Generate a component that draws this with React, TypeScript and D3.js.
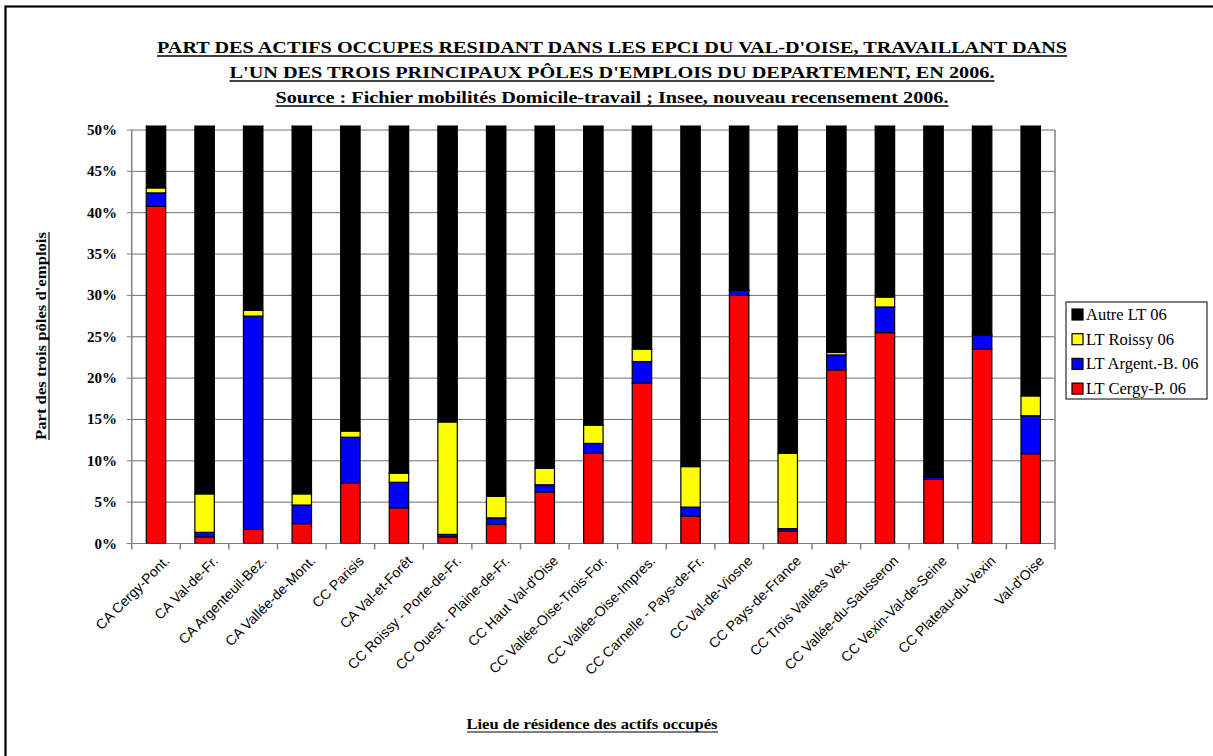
import * as d3 from "d3";

const categories = [
  "CA Cergy-Pont.",
  "CA Val-de-Fr.",
  "CA Argenteuil-Bez.",
  "CA Vallée-de-Mont.",
  "CC Parisis",
  "CA Val-et-Forêt",
  "CC Roissy - Porte-de-Fr.",
  "CC Ouest - Plaine-de-Fr.",
  "CC Haut Val-d'Oise",
  "CC Vallée-Oise-Trois-For.",
  "CC Vallée-Oise-Impres.",
  "CC Carnelle - Pays-de-Fr.",
  "CC Val-de-Viosne",
  "CC Pays-de-France",
  "CC Trois Vallées Vex.",
  "CC Vallée-du-Sausseron",
  "CC Vexin-Val-de-Seine",
  "CC Plateau-du-Vexin",
  "Val-d'Oise",
];

// shares in %
const cergy = [40.8, 0.8, 1.7, 2.4, 7.3, 4.3, 0.8, 2.3, 6.2, 10.9, 19.4, 3.3, 30.0, 1.5, 21.0, 25.5, 7.75, 23.5, 10.85];
const argent = [1.6, 0.55, 25.8, 2.25, 5.55, 3.1, 0.3, 0.8, 0.9, 1.2, 2.6, 1.1, 0.6, 0.3, 1.8, 3.1, 0.25, 1.7, 4.6];
const roissy = [0.6, 4.65, 0.7, 1.35, 0.75, 1.1, 13.6, 2.6, 2.0, 2.2, 1.5, 4.9, 0.05, 9.1, 0.3, 1.2, 0.05, 0.05, 2.4];
const autre = [57.0, 94.0, 71.8, 94.0, 86.4, 91.5, 85.3, 94.3, 90.9, 85.7, 76.5, 90.7, 69.35, 89.1, 76.9, 70.2, 91.95, 74.75, 82.15];

const yTicks = [0, 5, 10, 15, 20, 25, 30, 35, 40, 45, 50];

const series = [
  { key: "cergy", label: "LT Cergy-P. 06", color: "#ff0000", values: cergy },
  { key: "argent", label: "LT Argent.-B. 06", color: "#0000ff", values: argent },
  { key: "roissy", label: "LT Roissy 06", color: "#ffff00", values: roissy },
  { key: "autre", label: "Autre LT 06", color: "#000000", values: autre },
];

const titleLines = [
  "PART DES ACTIFS OCCUPES RESIDANT DANS LES EPCI DU VAL-D'OISE, TRAVAILLANT DANS",
  "L'UN DES TROIS PRINCIPAUX PÔLES D'EMPLOIS DU DEPARTEMENT, EN 2006.",
  "Source : Fichier mobilités Domicile-travail ; Insee, nouveau recensement 2006.",
];
const titleWidths = [910, 765, 673];

const serif = "'Liberation Serif', 'Times New Roman', serif";
const sans = "'Liberation Sans', Arial, sans-serif";

export default function App() {
  const width = 1213;
  const height = 756;
  const plot = { left: 131.7, right: 1055, top: 130, bottom: 543.5 };

  const rows = categories.map((name, i) => {
    const row: Record<string, number | string> = { name };
    series.forEach((s) => (row[s.key] = s.values[i]));
    return row;
  });
  const stacked = d3.stack<any>().keys(series.map((s) => s.key))(rows);

  const x = d3
    .scaleBand()
    .domain(categories)
    .range([plot.left, plot.right])
    .paddingInner(0.6)
    .paddingOuter(0.3);
  const y = d3.scaleLinear().domain([0, 50]).range([plot.bottom, plot.top]);
  const pct = d3.format(".0%");
  const step = x.step();
  const boundaries = d3.range(categories.length + 1).map((i) => plot.left + i * step);
  const legendOrder = [...series].reverse();
  const axisGray = "#808080";

  return (
    <svg width={width} height={height} style={{ position: "absolute", left: 0, top: 0, background: "#fff" }}>
      <defs>
        <clipPath id="plot-clip">
          <rect x={plot.left} y={plot.top - 4.5} width={plot.right - plot.left} height={plot.bottom - plot.top + 4.5} />
        </clipPath>
      </defs>
      <rect x={5.5} y={6.5} width={width + 20} height={height + 20} fill="#fff" stroke="#000" strokeWidth={2.2} />

      {titleLines.map((line, i) => {
        const cy = 53 + i * 25;
        const w = titleWidths[i];
        return (
          <g key={i}>
            <text
              x={612}
              y={cy}
              textAnchor="middle"
              fontFamily={serif}
              fontWeight="bold"
              fontSize={17}
              textLength={w}
              lengthAdjust="spacingAndGlyphs"
            >
              {line}
            </text>
            <line x1={612 - w / 2} x2={612 + w / 2} y1={cy + 3} y2={cy + 3} stroke="#000" strokeWidth={1.3} />
          </g>
        );
      })}

      {yTicks.map((t) => (
        <g key={t}>
          <line x1={plot.left} x2={plot.right} y1={y(t)} y2={y(t)} stroke={t === 0 ? axisGray : "#6e6e6e"} strokeWidth={1} />
          <line x1={plot.left - 5} x2={plot.left} y1={y(t)} y2={y(t)} stroke={axisGray} />
          <text x={117} y={y(t) + 5} textAnchor="end" fontFamily={serif} fontWeight="bold" fontSize={15}>
            {pct(t / 100)}
          </text>
        </g>
      ))}
      <line x1={plot.left} x2={plot.left} y1={plot.top} y2={plot.bottom} stroke={axisGray} strokeWidth={1.5} />
      <line x1={plot.right} x2={plot.right} y1={plot.top} y2={plot.bottom} stroke={axisGray} strokeWidth={1.5} />
      {boundaries.map((bx, i) => (
        <line key={i} x1={bx} x2={bx} y1={plot.bottom} y2={plot.bottom + 6} stroke={axisGray} strokeWidth={1.5} />
      ))}

      <g clipPath="url(#plot-clip)">
        {stacked.map((layer, li) => (
          <g key={layer.key} fill={series[li].color}>
            {layer.map((d, i) => (
              <rect
                key={i}
                x={x(categories[i]) ?? 0}
                y={y(d[1])}
                width={x.bandwidth()}
                height={Math.max(0, y(d[0]) - y(d[1]))}
                stroke="#000"
                strokeWidth={1.2}
              />
            ))}
          </g>
        ))}
      </g>

      {categories.map((c) => {
        const cx = (x(c) ?? 0) + x.bandwidth() / 2;
        return (
          <text
            key={c}
            transform={`translate(${cx + 7}, ${plot.bottom + 11}) rotate(-45)`}
            textAnchor="end"
            fontFamily={sans}
            fontSize={14}
            dominantBaseline="hanging"
          >
            {c}
          </text>
        );
      })}

      <g>
        <text
          transform={`translate(46, ${336}) rotate(-90)`}
          textAnchor="middle"
          fontFamily={serif}
          fontWeight="bold"
          fontSize={15}
          textLength={208}
          lengthAdjust="spacingAndGlyphs"
        >
          Part des trois pôles d'emplois
        </text>
        <line x1={49} x2={49} y1={232} y2={440} stroke="#000" strokeWidth={1.2} />
      </g>

      <g>
        <text
          x={592}
          y={729}
          textAnchor="middle"
          fontFamily={serif}
          fontWeight="bold"
          fontSize={15}
          textLength={251}
          lengthAdjust="spacingAndGlyphs"
        >
          Lieu de résidence des actifs occupés
        </text>
        <line x1={467} x2={718} y1={732} y2={732} stroke="#000" strokeWidth={1.2} />
      </g>

      <g>
        <rect x={1066} y={302} width={141} height={97} fill="#fff" stroke="#000" strokeWidth={1} />
        {legendOrder.map((s, i) => {
          const ly = 314.5 + i * 24.7;
          return (
            <g key={s.key}>
              <rect x={1072} y={ly - 5.5} width={11} height={11} fill={s.color} stroke="#000" strokeWidth={1.2} />
              <text x={1086} y={ly + 5.5} fontFamily={serif} fontSize={16.5}>
                {s.label}
              </text>
            </g>
          );
        })}
      </g>
    </svg>
  );
}
